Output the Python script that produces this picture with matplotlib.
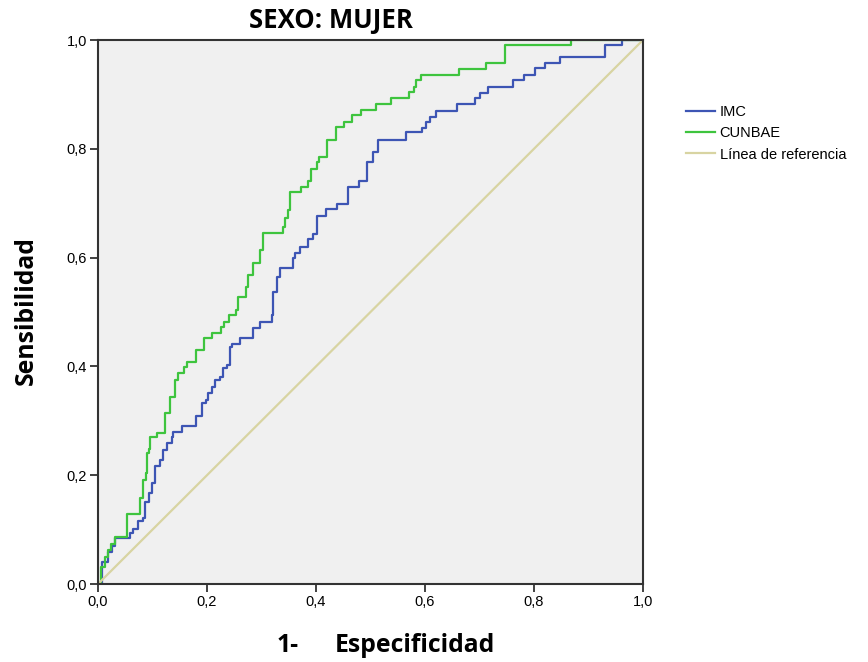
import matplotlib
matplotlib.use("Agg")
import matplotlib.pyplot as plt

# ROC corner points (1 - especificidad, sensibilidad)
imc_x = [0.0, 0.007, 0.008, 0.019, 0.025, 0.031, 0.059, 0.065, 0.074, 0.083,
         0.086, 0.094, 0.099, 0.105, 0.114, 0.119, 0.127, 0.135, 0.138, 0.154,
         0.180, 0.190, 0.199, 0.202, 0.209, 0.215, 0.224, 0.230, 0.236, 0.242,
         0.245, 0.261, 0.285, 0.297, 0.319, 0.322, 0.328, 0.334, 0.357, 0.361,
         0.371, 0.385, 0.395, 0.401, 0.418, 0.438, 0.459, 0.479, 0.494, 0.504,
         0.514, 0.566, 0.594, 0.602, 0.609, 0.620, 0.658, 0.692, 0.701, 0.716,
         0.761, 0.782, 0.802, 0.820, 0.848, 0.930, 0.961, 1.0]
imc_y = [0.0, 0.032, 0.041, 0.059, 0.069, 0.084, 0.093, 0.102, 0.115, 0.121,
         0.151, 0.167, 0.185, 0.216, 0.228, 0.246, 0.259, 0.271, 0.280, 0.290,
         0.308, 0.332, 0.338, 0.351, 0.363, 0.375, 0.381, 0.397, 0.403, 0.436,
         0.442, 0.452, 0.470, 0.482, 0.494, 0.537, 0.565, 0.580, 0.599, 0.608,
         0.620, 0.634, 0.643, 0.676, 0.689, 0.699, 0.730, 0.741, 0.776, 0.795,
         0.817, 0.830, 0.839, 0.849, 0.859, 0.870, 0.882, 0.893, 0.902, 0.914,
         0.926, 0.936, 0.948, 0.958, 0.968, 0.991, 1.0, 1.0]

cunbae_x = [0.0, 0.005, 0.012, 0.018, 0.024, 0.031, 0.054, 0.077, 0.083, 0.088,
            0.090, 0.094, 0.095, 0.108, 0.123, 0.132, 0.141, 0.147, 0.157, 0.163,
            0.180, 0.194, 0.210, 0.225, 0.231, 0.240, 0.253, 0.257, 0.272, 0.276,
            0.285, 0.297, 0.303, 0.339, 0.343, 0.349, 0.352, 0.372, 0.386, 0.390,
            0.402, 0.406, 0.420, 0.437, 0.452, 0.466, 0.482, 0.511, 0.537, 0.571,
            0.579, 0.583, 0.592, 0.663, 0.712, 0.747, 0.868, 1.0]
cunbae_y = [0.0, 0.032, 0.049, 0.063, 0.074, 0.086, 0.129, 0.159, 0.192, 0.204,
            0.240, 0.249, 0.271, 0.278, 0.314, 0.344, 0.375, 0.387, 0.398, 0.409,
            0.430, 0.452, 0.461, 0.473, 0.482, 0.494, 0.504, 0.528, 0.546, 0.568,
            0.590, 0.614, 0.646, 0.656, 0.672, 0.688, 0.720, 0.730, 0.741, 0.763,
            0.776, 0.785, 0.816, 0.840, 0.850, 0.862, 0.871, 0.882, 0.893, 0.904,
            0.914, 0.926, 0.936, 0.947, 0.957, 0.991, 1.0, 1.0]

ref_x = [0.0, 1.0]
ref_y = [0.0, 1.0]

ticks = [0.0, 0.2, 0.4, 0.6, 0.8, 1.0]
tick_labels = ["0,0", "0,2", "0,4", "0,6", "0,8", "1,0"]

fig = plt.figure(figsize=(8.68, 6.62), dpi=100)
ax = fig.add_axes([98 / 868, 78 / 662, 545 / 868, 544 / 662])
ax.set_facecolor("#F0F0F0")

ax.plot(imc_x, imc_y, drawstyle="steps-post", color="#3D55B4", lw=1.6, label="IMC")
ax.plot(cunbae_x, cunbae_y, drawstyle="steps-post", color="#3EC43E", lw=1.6, label="CUNBAE")
ax.plot(ref_x, ref_y, color="#D8D4A2", lw=1.6, label="Línea de referencia")

ax.set_xlim(0, 1)
ax.set_ylim(0, 1)
ax.set_xticks(ticks)
ax.set_xticklabels(tick_labels, fontfamily="Liberation Sans", fontsize=10.5)
ax.set_yticks(ticks)
ax.set_yticklabels(tick_labels, fontfamily="Liberation Sans", fontsize=10.5)
ax.tick_params(direction="out", length=6, width=1.3, color="#333333", pad=2)
for s in ax.spines.values():
    s.set_color("#333333")
    s.set_linewidth(1.5)

bold_font = ["Open Sans", "DejaVu Sans"]
fig.text(331 / 868, 1 - 21 / 662, "SEXO: MUJER", ha="center", va="center",
         fontfamily=bold_font, fontweight="bold", fontsize=18.5)
fig.text(26 / 868, 1 - 311 / 662, "Sensibilidad", ha="center", va="center",
         rotation=90, fontfamily=bold_font, fontweight="bold", fontsize=17.8)
# x label: "1-" and "Especificidad" with the wide gap of the original
fig.text(277 / 868, 1 - 645 / 662, "1-", ha="left", va="center",
         fontfamily=bold_font, fontweight="bold", fontsize=17.8)
fig.text(335 / 868, 1 - 645 / 662, "Especificidad", ha="left", va="center",
         fontfamily=bold_font, fontweight="bold", fontsize=17.8)

leg = ax.legend(loc="upper left", bbox_to_anchor=(686 / 868, 1 - 105 / 662),
                bbox_transform=fig.transFigure, frameon=False,
                prop={"family": "Liberation Sans", "size": 10.5},
                handlelength=2.0, handletextpad=0.3, labelspacing=0.5,
                borderaxespad=0, borderpad=0)

fig.savefig("out.png", dpi=100)
